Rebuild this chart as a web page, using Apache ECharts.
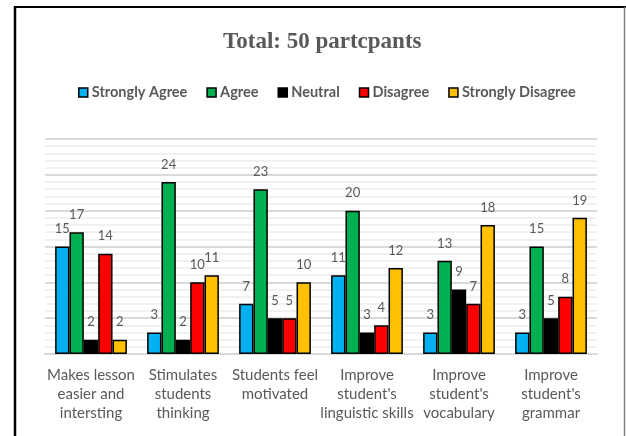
<!DOCTYPE html>
<html>
<head>
<meta charset="utf-8">
<script src="https://cdn.jsdelivr.net/npm/echarts@6/dist/echarts.min.js"></script>
<style>
html,body{margin:0;padding:0;background:#fff;}
#chart{width:626px;height:436px;}
</style>
</head>
<body>
<div id="chart"></div>
<script>
const categories = [
  "Makes lesson\neasier and\nintersting",
  "Stimulates\nstudents\nthinking",
  "Students feel\nmotivated",
  "Improve\nstudent's\nlinguistic skills",
  "Improve\nstudent's\nvocabulary",
  "Improve\nstudent's\ngrammar"
];
const seriesNames = ["Strongly Agree", "Agree", "Neutral", "Disagree", "Strongly Disagree"];
const stronglyAgree = [15, 3, 7, 11, 3, 3];
const agree = [17, 24, 23, 20, 13, 15];
const neutral = [2, 2, 5, 3, 9, 5];
const disagree = [14, 10, 5, 4, 7, 8];
const stronglyDisagree = [2, 11, 10, 12, 18, 19];
const yTicks = [0, 5, 10, 15, 20, 25, 30];

const colors = ["#00b0f0", "#00b050", "#000000", "#ff0000", "#ffc000"];
const values = [stronglyAgree, agree, neutral, disagree, stronglyDisagree];
const txt = "#595959";
const sans = "Lato, 'Open Sans', sans-serif";

const chart = echarts.init(document.getElementById('chart'), null, {renderer: 'canvas'});
chart.setOption({
  animation: false,
  color: colors,
  title: {
    text: "Total: 50 partcpants",
    left: 218,
    top: 26,
    textStyle: {fontFamily: "'Liberation Serif', 'Times New Roman', serif", fontWeight: 'bold', fontSize: 23, color: txt}
  },
  legend: {
    data: seriesNames,
    left: 73,
    top: 80,
    itemWidth: 9,
    itemHeight: 9,
    itemGap: 19,
    icon: 'rect',
    itemStyle: {borderColor: '#000', borderWidth: 1.5},
    textStyle: {fontFamily: sans, fontWeight: 'bold', fontSize: 14.5, color: txt, padding: [0, 0, 0, -1]}
  },
  grid: {left: 45, right: 29, top: 139, bottom: 82, containLabel: false},
  xAxis: {
    type: 'category',
    data: categories,
    axisLine: {lineStyle: {color: '#d9d9d9', width: 2}},
    axisTick: {show: false},
    axisLabel: {fontFamily: sans, fontSize: 15, color: txt, lineHeight: 19, margin: 12, interval: 0}
  },
  yAxis: {
    type: 'value',
    min: yTicks[0],
    max: yTicks[yTicks.length - 1],
    interval: yTicks[1] - yTicks[0],
    axisLine: {show: false},
    axisTick: {show: false},
    axisLabel: {show: false},
    splitLine: {lineStyle: {color: '#d9d9d9', width: 2}},
    minorTick: {show: false, splitNumber: 5},
    minorSplitLine: {show: true, lineStyle: {color: '#ededed', width: 1.5}}
  },
  series: seriesNames.map((name, i) => ({
    name: name,
    type: 'bar',
    data: values[i],
    barGap: '0%',
    barCategoryGap: '22%',
    itemStyle: {color: colors[i], borderColor: '#000', borderWidth: 1.5},
    label: {show: true, position: 'top', distance: 11, fontFamily: sans, fontSize: 13, color: txt}
  })),
  graphic: [
    {type: 'line', shape: {x1: 15, y1: 7, x2: 626, y2: 7}, style: {stroke: '#000', lineWidth: 2}},
    {type: 'line', shape: {x1: 15, y1: 6, x2: 15, y2: 436}, style: {stroke: '#000', lineWidth: 2.5}},
    {type: 'line', shape: {x1: 624.5, y1: 7, x2: 624.5, y2: 436}, style: {stroke: '#7f7f7f', lineWidth: 1.5}}
  ]
});
</script>
</body>
</html>
